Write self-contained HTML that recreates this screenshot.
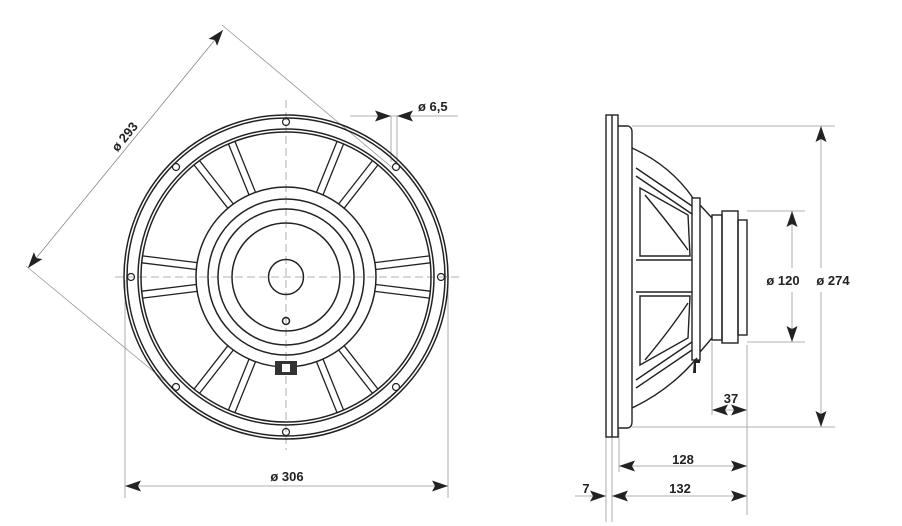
<!DOCTYPE html>
<html><head><meta charset="utf-8"><style>
html,body{margin:0;padding:0;background:#fff;}
svg{display:block;}
text{font-family:"Liberation Sans",sans-serif;font-weight:bold;font-size:13px;fill:#222;}
</style></head><body>
<svg id="s" width="902" height="526" viewBox="0 0 902 526" xmlns="http://www.w3.org/2000/svg">
<defs>
<marker id="a" viewBox="0 0 16 11" refX="16" refY="5.5" markerWidth="16" markerHeight="11" markerUnits="userSpaceOnUse" orient="auto-start-reverse">
<path d="M0,0 L16,5.5 L0,11 L3,5.5 Z" fill="#222"/>
</marker>
</defs>
<g stroke="#999" stroke-width="0.8" fill="none">
<line x1="115" y1="277" x2="462" y2="277" stroke-dasharray="8,4"/>
<line x1="286" y1="100" x2="286" y2="450" stroke-dasharray="8,4"/>
<line x1="222" y1="25" x2="395" y2="170"/>
<line x1="26" y1="266" x2="176" y2="390"/>
<line x1="223" y1="30" x2="28" y2="268" marker-start="url(#a)" marker-end="url(#a)" stroke="#888"/>
<line x1="125" y1="280" x2="125" y2="498"/>
<line x1="448" y1="280" x2="448" y2="498"/>
<line x1="125" y1="486" x2="448" y2="486" marker-start="url(#a)" marker-end="url(#a)"/>
<line x1="350" y1="116" x2="458" y2="116"/>
<line x1="391" y1="116" x2="391" y2="162"/>
<line x1="397" y1="116" x2="397" y2="162"/>
<line x1="374" y1="116" x2="391" y2="116" marker-end="url(#a)"/>
<line x1="414" y1="116" x2="397" y2="116" marker-end="url(#a)"/>
<line x1="632" y1="126" x2="835" y2="126"/>
<line x1="632" y1="427" x2="835" y2="427"/>
<line x1="747" y1="211" x2="805" y2="211"/>
<line x1="747" y1="342" x2="805" y2="342"/>
<line x1="821" y1="126" x2="821" y2="268" marker-start="url(#a)"/>
<line x1="821" y1="292" x2="821" y2="427" marker-end="url(#a)"/>
<line x1="792" y1="211" x2="792" y2="268" marker-start="url(#a)"/>
<line x1="792" y1="292" x2="792" y2="342" marker-end="url(#a)"/>
<line x1="606" y1="437" x2="606" y2="522"/>
<line x1="612" y1="437" x2="612" y2="522"/>
<line x1="619" y1="430" x2="619" y2="472"/>
<line x1="747" y1="345" x2="747" y2="515"/>
<line x1="712" y1="342" x2="712" y2="415"/>
<line x1="619" y1="466" x2="747" y2="466" marker-start="url(#a)" marker-end="url(#a)"/>
<line x1="612" y1="496" x2="747" y2="496" marker-start="url(#a)" marker-end="url(#a)"/>
<line x1="575" y1="496" x2="606" y2="496" marker-end="url(#a)"/>
<line x1="730" y1="410" x2="712" y2="410" marker-end="url(#a)"/>
<line x1="730" y1="410" x2="747" y2="410" marker-end="url(#a)"/>
</g>
<g stroke="#222" stroke-width="1.5" fill="none">
<circle cx="286" cy="277" r="162"/>
<circle cx="286" cy="277" r="159"/>
<circle cx="286" cy="277" r="148"/>
<circle cx="286" cy="277" r="145"/>
<circle cx="286" cy="277" r="90"/>
<circle cx="286" cy="277" r="78"/>
<circle cx="286" cy="277" r="68"/>
<circle cx="286" cy="277" r="54"/>
<circle cx="286" cy="277" r="17.5"/>
<circle cx="286" cy="321" r="3.5"/>
<g stroke-width="1.2">
<circle cx="441" cy="277" r="3.5"/><circle cx="131" cy="277" r="3.5"/>
<circle cx="286" cy="122" r="3.5"/><circle cx="286" cy="432" r="3.5"/>
<circle cx="396" cy="167" r="3.5"/><circle cx="176" cy="167" r="3.5"/>
<circle cx="396" cy="387" r="3.5"/><circle cx="176" cy="387" r="3.5"/>
</g>
<path id="spokes" stroke-width="1.3" d=""/>
</g>
<rect x="275" y="361" width="22" height="14" fill="#333"/>
<rect x="282" y="364" width="8" height="8" fill="#fff"/>
<g stroke="#222" stroke-width="1.4" fill="none">
<rect x="606" y="115" width="12" height="322"/>
<line x1="612" y1="115" x2="612" y2="437"/>
<path d="M618,126 L628,126 Q632,127 632,132 L632,422 Q632,427 628,428 L618,428"/>
<path d="M632,148 Q670,165 693,198"/>
<path d="M632,408 Q670,390 697,358"/>
<rect x="692" y="198" width="8" height="162"/>
<path d="M636,168 L692,206 M636,176 L692,214"/>
<path d="M636,388 L692,350 M636,380 L692,342"/>
<path d="M640,188 L688,215 L690,256 L640,256 Z"/>
<path d="M640,365 L688,338 L690,296 L640,296 Z"/>
<path d="M636,260 L692,260 M636,292 L692,292"/>
<path d="M645,195 Q670,225 688,250"/>
<path d="M645,360 Q670,330 688,303"/>
<path d="M700,205 L712,218 M700,352 L712,338"/>
<rect x="712" y="215" width="10" height="125"/>
<rect x="722" y="211" width="16" height="132"/>
<rect x="738" y="220" width="9" height="115"/>
</g>
<path d="M694,360 l6,0 l0,3 l-4,0 l0,10 l-3,0 z" fill="#222"/>
<text x="125" y="141" text-anchor="middle" transform="rotate(-51 125 137)">ø 293</text>
<text x="287" y="481" text-anchor="middle">ø 306</text>
<text x="418" y="111">ø 6,5</text>
<text x="783" y="285" text-anchor="middle">ø 120</text>
<text x="833" y="285" text-anchor="middle">ø 274</text>
<text x="683" y="464" text-anchor="middle">128</text>
<text x="680" y="493" text-anchor="middle">132</text>
<text x="586" y="493" text-anchor="middle">7</text>
<text x="731" y="403" text-anchor="middle">37</text>
</svg>
<script>
(function(){
var cx=286,cy=277,d="",angs=[7,-7,173,187,52,68,112,128,232,248,292,308];
angs.forEach(function(a){
 var t=a*Math.PI/180,ux=Math.cos(t),uy=-Math.sin(t),px=-uy,py=ux;
 [-3.5,3.5].forEach(function(o){
  var x1=cx+ux*90+px*o,y1=cy+uy*90+py*o,x2=cx+ux*145+px*o,y2=cy+uy*145+py*o;
  d+="M"+x1.toFixed(1)+","+y1.toFixed(1)+"L"+x2.toFixed(1)+","+y2.toFixed(1);
 });
});
document.getElementById("spokes").setAttribute("d",d);
})();
</script>
</body></html>
